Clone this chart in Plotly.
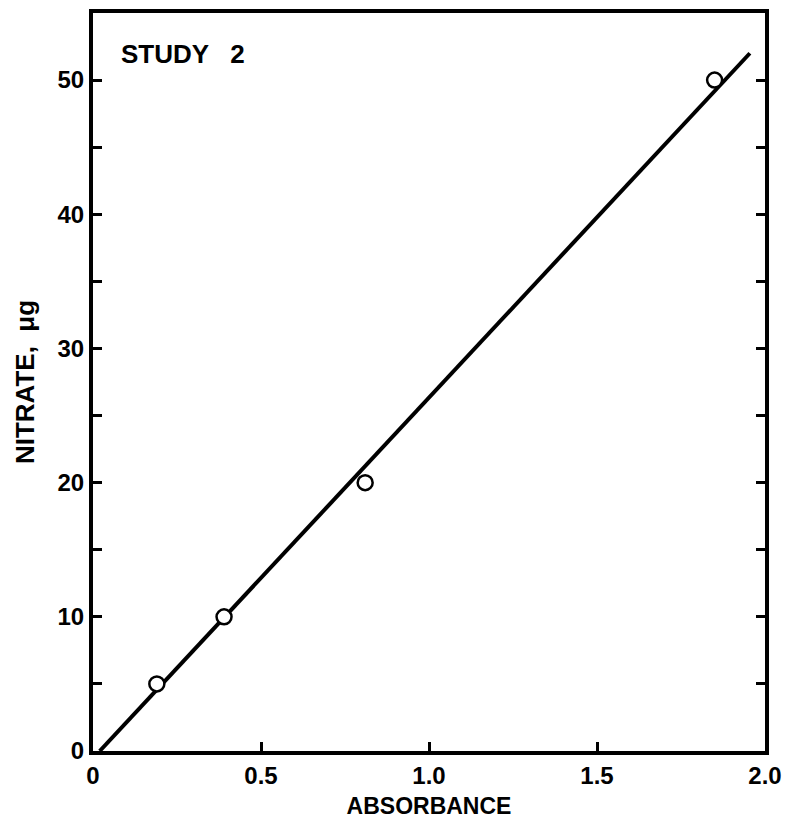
import plotly.graph_objects as go

# Calibration standards: absorbance vs. nitrate mass
absorbance = [0.19, 0.39, 0.81, 1.85]
nitrate_ug = [5, 10, 20, 50]

# Fitted calibration line end points
fit_x = [0.02, 1.955]
fit_y = [0, 52]

x_ticks = [0, 0.5, 1.0, 1.5, 2.0]
x_tick_text = ["0", "0.5", "1.0", "1.5", "2.0"]
y_ticks = [0, 10, 20, 30, 40, 50]

FONT = "Liberation Sans"

fig = go.Figure()
fig.add_trace(go.Scatter(
    x=fit_x, y=fit_y, mode="lines",
    line=dict(color="black", width=4),
    showlegend=False, hoverinfo="skip",
))
fig.add_trace(go.Scatter(
    x=absorbance, y=nitrate_ug, mode="markers",
    marker=dict(symbol="circle", size=15, color="white",
                line=dict(color="black", width=2.5)),
    showlegend=False,
))

fig.add_annotation(
    text="<b>STUDY   2</b>", xref="paper", yref="paper",
    x=0.038, y=0.945, xanchor="left", yanchor="middle",
    showarrow=False, font=dict(family=FONT, size=26, color="black"),
)

axis_common = dict(
    showgrid=False, zeroline=False, automargin=False,
    showline=True, linecolor="black", linewidth=4,
    ticks="inside", ticklen=9, tickwidth=2.5, tickcolor="black",
    tickfont=dict(family=FONT, size=24, color="black", weight="bold"),
)

fig.update_xaxes(
    range=[0, 2], tickvals=x_ticks, ticktext=x_tick_text,
    mirror=True,
    title=dict(text="<b>ABSORBANCE</b>", standoff=11,
               font=dict(family=FONT, size=23, color="black")),
    **axis_common,
)
fig.update_yaxes(
    range=[0, 55], tickvals=y_ticks,
    minor=dict(dtick=5, ticks="inside", ticklen=9, tickwidth=2.5,
               tickcolor="black"),
    mirror="ticks",
    title=dict(text="<b>NITRATE,  μg</b>", standoff=16,
               font=dict(family=FONT, size=26, color="black")),
    **axis_common,
)

fig.update_layout(
    width=787, height=820,
    margin=dict(l=93, r=22, t=13, b=69),
    paper_bgcolor="white", plot_bgcolor="white",
)

fig.write_html("out.html")
